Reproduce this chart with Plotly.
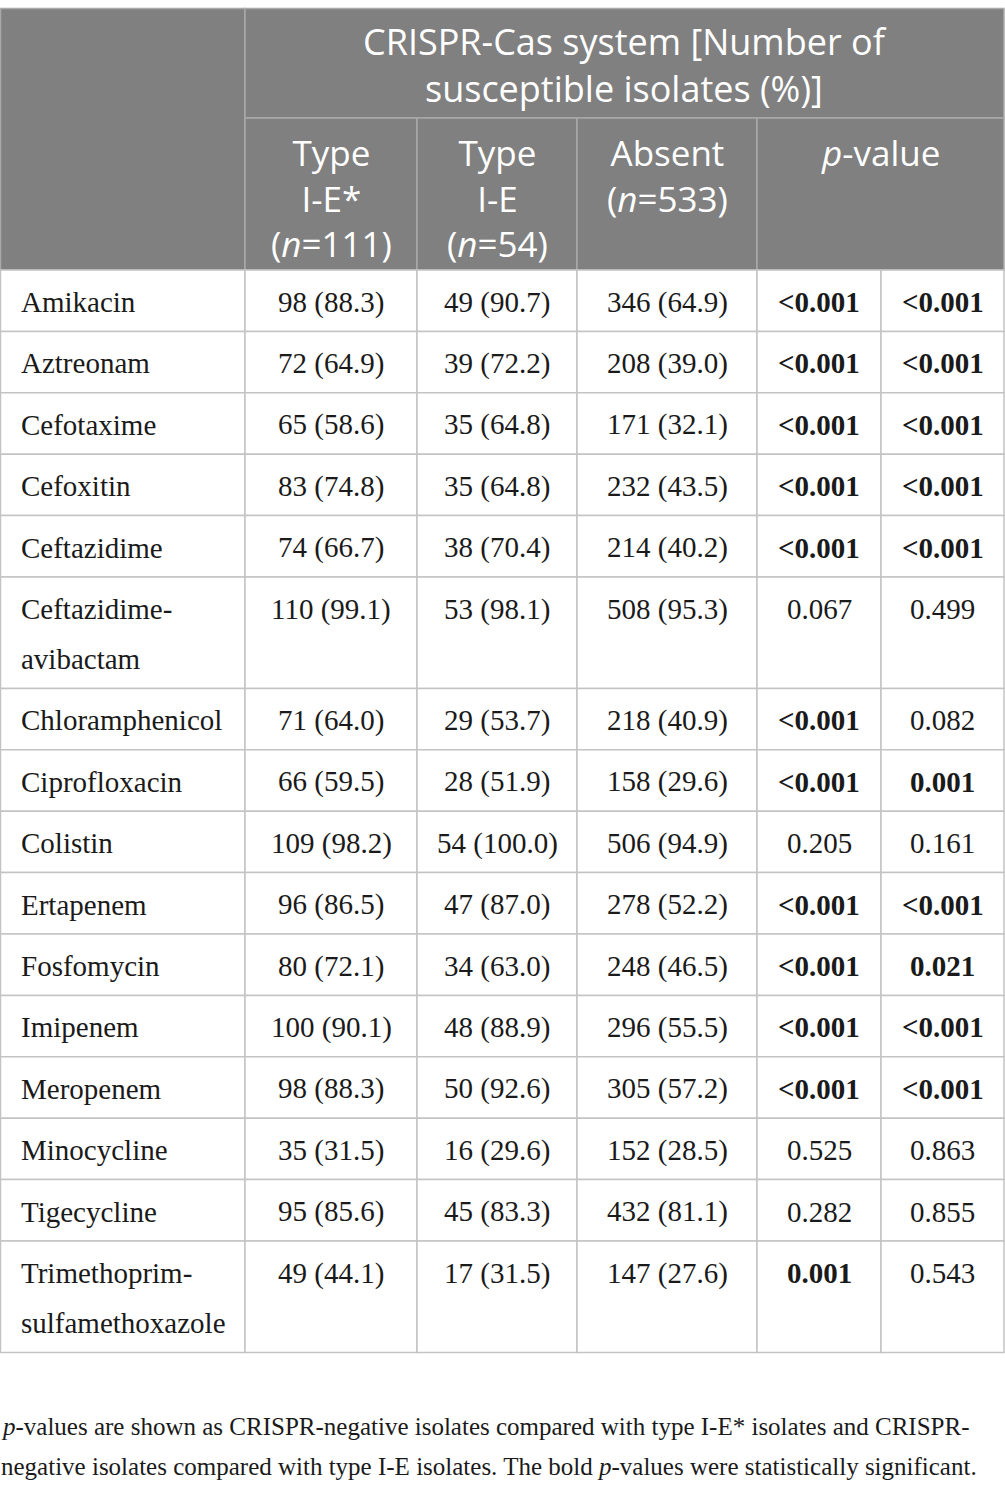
import plotly.graph_objects as go

# table data
drugs = ["Amikacin", "Aztreonam", "Cefotaxime", "Cefoxitin", "Ceftazidime",
         "Ceftazidime-avibactam", "Chloramphenicol", "Ciprofloxacin", "Colistin",
         "Ertapenem", "Fosfomycin", "Imipenem", "Meropenem", "Minocycline",
         "Tigecycline", "Trimethoprim-sulfamethoxazole"]
typeIEstar = ["98 (88.3)", "72 (64.9)", "65 (58.6)", "83 (74.8)", "74 (66.7)",
              "110 (99.1)", "71 (64.0)", "66 (59.5)", "109 (98.2)", "96 (86.5)",
              "80 (72.1)", "100 (90.1)", "98 (88.3)", "35 (31.5)", "95 (85.6)",
              "49 (44.1)"]
typeIE = ["49 (90.7)", "39 (72.2)", "35 (64.8)", "35 (64.8)", "38 (70.4)",
          "53 (98.1)", "29 (53.7)", "28 (51.9)", "54 (100.0)", "47 (87.0)",
          "34 (63.0)", "48 (88.9)", "50 (92.6)", "16 (29.6)", "45 (83.3)",
          "17 (31.5)"]
absent = ["346 (64.9)", "208 (39.0)", "171 (32.1)", "232 (43.5)", "214 (40.2)",
          "508 (95.3)", "218 (40.9)", "158 (29.6)", "506 (94.9)", "278 (52.2)",
          "248 (46.5)", "296 (55.5)", "305 (57.2)", "152 (28.5)", "432 (81.1)",
          "147 (27.6)"]
pStar = ["<0.001", "<0.001", "<0.001", "<0.001", "<0.001", "0.067", "<0.001",
         "<0.001", "0.205", "<0.001", "<0.001", "<0.001", "<0.001", "0.525",
         "0.282", "0.001"]
pIE = ["<0.001", "<0.001", "<0.001", "<0.001", "<0.001", "0.499", "0.082",
       "0.001", "0.161", "<0.001", "0.021", "<0.001", "<0.001", "0.863",
       "0.855", "0.543"]

headerTitle = "CRISPR-Cas system [Number of<br>susceptible isolates (%)]"
colHeaders = ["Type<br>I-E*<br>(<i>n</i>=111)",
              "Type<br>I-E<br>(<i>n</i>=54)",
              "Absent<br>(<i>n</i>=533)",
              "<i>p</i>-value"]
footnote = ["<i>p</i>-values are shown as CRISPR-negative isolates compared with type I-E* isolates and CRISPR-",
            "negative isolates compared with type I-E isolates. The bold <i>p</i>-values were statistically significant."]

# layout geometry
W, H = 1005, 1496
xEdges = [0.5, 245, 417, 577, 757, 881, 1004]
yTop, ySplit, yHead = 8.5, 118, 270
rowH, lineGap = 61.4, 50
headBg = "#808080"
headLine = "#a9a9a9"
bodyLine = "#c3c3c3"
serif = "Liberation Serif"
sans = "Open Sans"
bodySize = 29
textColor = "#1a1a1a"


def esc(s):
    return s.replace("<", "&lt;")


def pText(v):
    # significant values (p < 0.05) are bold
    num = float(v.lstrip("<"))
    return f"<b>{esc(v)}</b>" if num < 0.05 else esc(v)


def splitName(name):
    if len(name) > 16 and "-" in name:
        a, b = name.split("-", 1)
        return [a + "-", b]
    return [name]


fig = go.Figure()
shapes = []
annotations = []


def cell(x0, y0, x1, y1, fill, line, w=1.5):
    shapes.append(dict(type="rect", xref="x", yref="y", x0=x0, x1=x1, y0=y0, y1=y1,
                       fillcolor=fill, line=dict(color=line, width=w), layer="below"))


def label(x, y, text, size, color, family, anchor="center", yanchor="middle", xshift=0):
    annotations.append(dict(x=x, y=y, text=text, showarrow=False, xanchor=anchor,
                            yanchor=yanchor, xshift=xshift,
                            font=dict(family=family, size=size, color=color)))


# header cells
cell(xEdges[0], yTop, xEdges[1], yHead, headBg, headLine)
cell(xEdges[1], yTop, xEdges[-1], ySplit, headBg, headLine)
for i in range(3):
    cell(xEdges[i + 1], ySplit, xEdges[i + 2], yHead, headBg, headLine)
cell(xEdges[4], ySplit, xEdges[-1], yHead, headBg, headLine)

label((xEdges[1] + xEdges[-1]) / 2, (yTop + ySplit) / 2 + 2, headerTitle, 36, "white", sans)
for i, hdr in enumerate(colHeaders):
    x1 = xEdges[i + 2] if i < 3 else xEdges[-1]
    label((xEdges[i + 1] + x1) / 2, ySplit + 9, hdr, 35, "white", sans, yanchor="top")

# body rows
y = yHead
for r, name in enumerate(drugs):
    lines = splitName(name)
    h = rowH + (len(lines) - 1) * lineGap
    for c in range(6):
        cell(xEdges[c], y, xEdges[c + 1], y + h, "white", bodyLine)
    firstY = y + 32
    for k, ln in enumerate(lines):
        label(19, firstY + k * lineGap, ln, bodySize, textColor, serif, "left")
    vals = [typeIEstar[r], typeIE[r], absent[r], pText(pStar[r]), pText(pIE[r])]
    for c, v in enumerate(vals):
        label((xEdges[c + 1] + xEdges[c + 2]) / 2, firstY, v, bodySize, textColor, serif)
    y += h

# footnote
for k, ln in enumerate(footnote):
    label(0, 1426 + k * 40, ln, 25, textColor, serif, "left", xshift=-1)

fig.update_layout(
    width=W, height=H,
    margin=dict(l=0, r=0, t=0, b=0),
    paper_bgcolor="white", plot_bgcolor="white",
    xaxis=dict(range=[0, W], visible=False, fixedrange=True),
    yaxis=dict(range=[H, 0], visible=False, fixedrange=True),
    shapes=shapes, annotations=annotations,
    showlegend=False,
)

fig.write_html("out.html", config={"displayModeBar": False},
               post_script="document.body.style.margin='0';")
